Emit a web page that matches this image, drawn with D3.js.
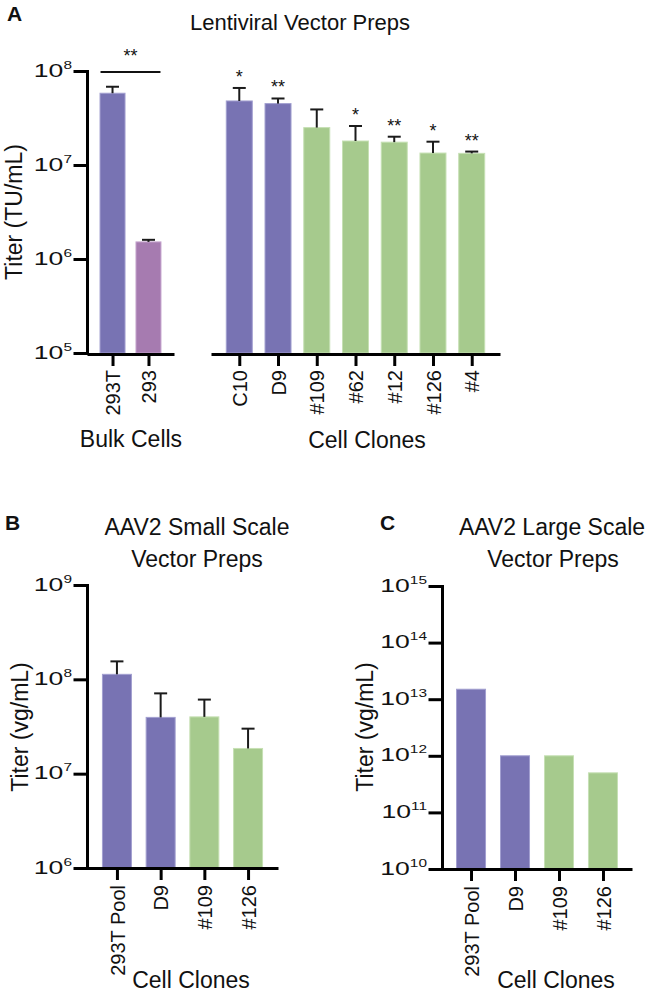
<!DOCTYPE html>
<html><head><meta charset="utf-8">
<script src="https://cdn.jsdelivr.net/npm/d3@7"></script>
<style>
body{margin:0;background:#fff}
text{font-family:"Liberation Sans",Arial,Helvetica,sans-serif;fill:#111}
</style>
</head><body>
<svg id="chart" width="650" height="992"></svg>
<script>
// ---------- DATA ----------
// Panel A: Lentiviral vector preps (TU/mL)
const bulkCells = ["293T", "293"];
const bulkTiter = [5.8e7, 1.52e6];
const bulkErrTop = [6.8e7, 1.6e6];
const bulkType = ["mod", "parent"];

const cloneCells = ["C10", "D9", "#109", "#62", "#12", "#126", "#4"];
const cloneTiter = [4.8e7, 4.5e7, 2.5e7, 1.8e7, 1.75e7, 1.34e7, 1.33e7];
const cloneErrTop = [6.6e7, 5.1e7, 3.9e7, 2.6e7, 2.0e7, 1.77e7, 1.39e7];
const cloneSig = ["*", "**", "", "*", "**", "*", "**"];
const cloneType = ["mod", "mod", "clone", "clone", "clone", "clone", "clone"];
const ticksA = [1e5, 1e6, 1e7, 1e8];

// Panel B: AAV2 small scale (vg/mL)
const smallCells = ["293T Pool", "D9", "#109", "#126"];
const smallTiter = [1.13e8, 3.95e7, 4.0e7, 1.85e7];
const smallErrTop = [1.55e8, 7.1e7, 6.1e7, 3.0e7];
const smallType = ["mod", "mod", "clone", "clone"];
const ticksB = [1e6, 1e7, 1e8, 1e9];

// Panel C: AAV2 large scale (vg/mL)
const largeCells = ["293T Pool", "D9", "#109", "#126"];
const largeTiter = [1.5e13, 1e12, 1e12, 5e11];
const largeType = ["mod", "mod", "clone", "clone"];
const ticksC = [1e10, 1e11, 1e12, 1e13, 1e14, 1e15];

// ---------- STYLE ----------
const fillColor = {mod: "#7873b3", parent: "#a67bb0", clone: "#a6ca8d"};
const edgeColor = {mod: "#a29fd0", parent: "#c7a6cf", clone: "#c6e0b4"};

const svg = d3.select("#chart");

function yAxis(g, y, ticks, x) {
  const ax = d3.axisLeft(y).tickValues(ticks).tickSize(12).tickSizeOuter(0).tickFormat(() => "");
  const gg = g.append("g").attr("transform", `translate(${x},0)`).call(ax);
  gg.selectAll("path,line").attr("stroke", "#000").attr("stroke-width", 3).attr("stroke-linecap", "square");
  gg.selectAll(".tick text").remove();
  gg.selectAll(".tick").append("text")
    .attr("text-anchor", "end")
    .attr("transform", "translate(-15,5) scale(1.4,1)")
    .each(function(d) {
      const t = d3.select(this);
      t.append("tspan").attr("font-size", 19).text("10");
      t.append("tspan").attr("font-size", 11).attr("dy", -8).text(Math.round(Math.log10(d)));
    });
}

function xAxis(g, x, yBase, labOff) {
  const ax = d3.axisBottom(x).tickSize(12).tickSizeOuter(0);
  const gg = g.append("g").attr("transform", `translate(0,${yBase})`).call(ax);
  gg.selectAll("path,line").attr("stroke", "#000").attr("stroke-width", 3);
  gg.selectAll(".tick text")
    .attr("font-size", 20).attr("fill", "#111")
    .attr("font-family", '"Liberation Sans",Arial,sans-serif')
    .attr("text-anchor", "end")
    .attr("y", null).attr("x", null).attr("dy", "0.36em")
    .attr("transform", `translate(0,${labOff}) rotate(-90)`);
}

function bars(g, x, y, cats, vals, types, bw) {
  g.append("g").selectAll("rect").data(cats).join("rect")
    .attr("x", (d) => x(d) - bw / 2)
    .attr("width", bw)
    .attr("y", (d, i) => y(vals[i]))
    .attr("height", (d, i) => y.range()[0] - y(vals[i]))
    .attr("fill", (d, i) => fillColor[types[i]])
    .attr("stroke", (d, i) => edgeColor[types[i]])
    .attr("stroke-width", 1);
}

function errBars(g, x, y, cats, vals, errs, cap) {
  const eg = g.append("g").attr("stroke", "#1b1b1b").attr("stroke-width", 2);
  eg.selectAll("line.v").data(cats).join("line").attr("class", "v")
    .attr("x1", (d) => x(d)).attr("x2", (d) => x(d))
    .attr("y1", (d, i) => y(vals[i])).attr("y2", (d, i) => y(errs[i]));
  eg.selectAll("line.c").data(cats).join("line").attr("class", "c")
    .attr("x1", (d) => x(d) - cap).attr("x2", (d) => x(d) + cap)
    .attr("y1", (d, i) => y(errs[i])).attr("y2", (d, i) => y(errs[i]));
}

function yTitle(g, text, x, yc) {
  g.append("text").attr("transform", `translate(${x},${yc}) rotate(-90)`)
    .attr("text-anchor", "middle").attr("font-size", 23).text(text);
}

// ---------- PANEL A ----------
const yA = d3.scaleLog().domain([1e5, 1e8]).range([353, 71]);
const xBulk = d3.scalePoint().domain(bulkCells).range([87, 174]).padding(0.71);
const xClone = d3.scalePoint().domain(cloneCells).range([211, 500]).padding(0.73);
const gA = svg.append("g");

gA.append("text").attr("x", 7).attr("y", 21).attr("font-size", 21).attr("font-weight", "bold").text("A");
gA.append("text").attr("x", 300).attr("y", 30).attr("text-anchor", "middle").attr("font-size", 22).text("Lentiviral Vector Preps");

bars(gA, xBulk, yA, bulkCells, bulkTiter, bulkType, 25);
bars(gA, xClone, yA, cloneCells, cloneTiter, cloneType, 26);
errBars(gA, xBulk, yA, bulkCells, bulkTiter, bulkErrTop, 6.5);
errBars(gA, xClone, yA, cloneCells, cloneTiter, cloneErrTop, 6.5);

gA.append("g").selectAll("text").data(cloneCells).join("text")
  .attr("x", (d) => xClone(d)).attr("y", (d, i) => yA(cloneErrTop[i]) - 5)
  .attr("text-anchor", "middle").attr("font-size", 18)
  .text((d, i) => cloneSig[i]);

// significance bracket between bulk cells
const bx1 = xBulk(bulkCells[0]) - 12, bx2 = xBulk(bulkCells[1]) + 12;
gA.append("line").attr("x1", bx1).attr("x2", bx2).attr("y1", yA(1e8) + 1).attr("y2", yA(1e8) + 1)
  .attr("stroke", "#111").attr("stroke-width", 2);
gA.append("text").attr("x", (bx1 + bx2) / 2).attr("y", yA(1e8) - 9)
  .attr("text-anchor", "middle").attr("font-size", 18).text("**");

yAxis(gA, yA, ticksA, 87);
xAxis(gA, xBulk, 354, 16);
xAxis(gA, xClone, 354, 16);
yTitle(gA, "Titer (TU/mL)", 22, 212);
gA.append("text").attr("x", 131).attr("y", 447).attr("text-anchor", "middle").attr("font-size", 23).text("Bulk Cells");
gA.append("text").attr("x", 367).attr("y", 448).attr("text-anchor", "middle").attr("font-size", 23).text("Cell Clones");

// ---------- PANEL B ----------
const yB = d3.scaleLog().domain([1e6, 1e9]).range([868, 585]);
const xB = d3.scalePoint().domain(smallCells).range([87, 278]).padding(0.685);
const gB = svg.append("g");
gB.append("text").attr("x", 5).attr("y", 530).attr("font-size", 21).attr("font-weight", "bold").text("B");
gB.append("text").attr("x", 197).attr("y", 535).attr("text-anchor", "middle").attr("font-size", 23).text("AAV2 Small Scale");
gB.append("text").attr("x", 197).attr("y", 567).attr("text-anchor", "middle").attr("font-size", 23).text("Vector Preps");
bars(gB, xB, yB, smallCells, smallTiter, smallType, 29);
errBars(gB, xB, yB, smallCells, smallTiter, smallErrTop, 6.5);
yAxis(gB, yB, ticksB, 87);
xAxis(gB, xB, 868, 17);
yTitle(gB, "Titer (vg/mL)", 28, 727);
gB.append("text").attr("x", 191).attr("y", 988).attr("text-anchor", "middle").attr("font-size", 23).text("Cell Clones");

// ---------- PANEL C ----------
const yC = d3.scaleLog().domain([1e10, 1e15]).range([869, 586]);
const xC = d3.scalePoint().domain(largeCells).range([442, 632]).padding(0.66);
const gC = svg.append("g");
gC.append("text").attr("x", 380).attr("y", 530).attr("font-size", 21).attr("font-weight", "bold").text("C");
gC.append("text").attr("x", 552).attr("y", 535).attr("text-anchor", "middle").attr("font-size", 23).text("AAV2 Large Scale");
gC.append("text").attr("x", 553).attr("y", 567).attr("text-anchor", "middle").attr("font-size", 23).text("Vector Preps");
bars(gC, xC, yC, largeCells, largeTiter, largeType, 29);
yAxis(gC, yC, ticksC, 442);
xAxis(gC, xC, 869, 17);
yTitle(gC, "Titer (vg/mL)", 373, 727);
gC.append("text").attr("x", 556).attr("y", 988).attr("text-anchor", "middle").attr("font-size", 23).text("Cell Clones");
</script>
</body></html>
